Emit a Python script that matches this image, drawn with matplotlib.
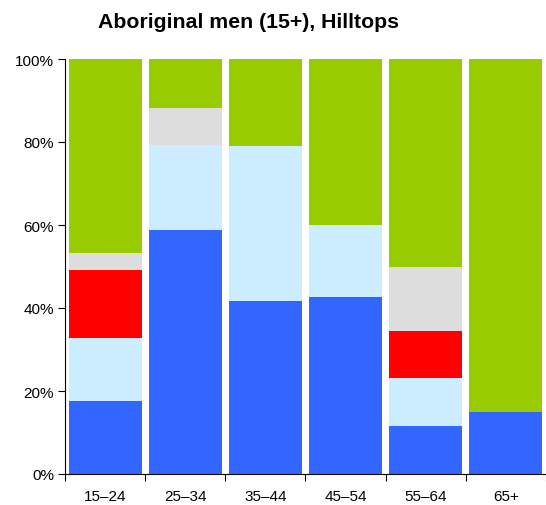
import matplotlib
matplotlib.use("Agg")
import matplotlib.pyplot as plt
import numpy as np

plt.rcParams["font.family"] = ["Liberation Sans", "DejaVu Sans"]

ages = ["15\u201324", "25\u201334", "35\u201344", "45\u201354", "55\u201364", "65+"]
# stacked segment shares (%), bottom to top
blue = [17.6, 58.8, 41.7, 42.7, 11.6, 14.9]
light_blue = [15.2, 20.5, 37.3, 17.3, 11.5, 0.0]
red = [16.4, 0.0, 0.0, 0.0, 11.4, 0.0]
grey = [4.1, 8.9, 0.0, 0.0, 15.4, 0.0]
green = [46.7, 11.8, 21.0, 40.0, 50.1, 85.1]

series = [
    (blue, "#3366FF"),
    (light_blue, "#CCECFF"),
    (red, "#FF0000"),
    (grey, "#DDDDDD"),
    (green, "#99CC00"),
]

fig = plt.figure(figsize=(5.46, 5.06), dpi=100)
ax = fig.add_axes([65 / 546, 1 - 475 / 506, 481 / 546, 415 / 506])

x = np.arange(len(ages))
bottom = np.zeros(len(ages))
for vals, col in series:
    vals = np.array(vals)
    ax.bar(x, vals, bottom=bottom, width=0.91, color=col, edgecolor="none")
    bottom += vals

ax.set_xlim(-0.5, len(ages) - 0.5)
ax.set_ylim(0, 100)
ax.set_yticks([0, 20, 40, 60, 80, 100])
ax.set_yticklabels([f"{v}%" for v in [0, 20, 40, 60, 80, 100]], fontsize=11)
ax.set_xticks(np.arange(len(ages) + 1) - 0.5)
ax.set_xticklabels([])
ax.set_xticks(x, minor=True)
ax.set_xticklabels(ages, minor=True, fontsize=11)
ax.tick_params(axis="x", which="minor", length=0, pad=11)
ax.tick_params(axis="x", which="major", length=5, direction="out")
ax.tick_params(axis="y", length=5, direction="out", pad=3)
for s in ["top", "right"]:
    ax.spines[s].set_visible(False)

fig.text(249 / 546, 1 - 23 / 506, "Aboriginal men (15+), Hilltops", ha="center", va="center",
         fontsize=15.3, fontweight="bold")

fig.savefig("out.png", dpi=100)
